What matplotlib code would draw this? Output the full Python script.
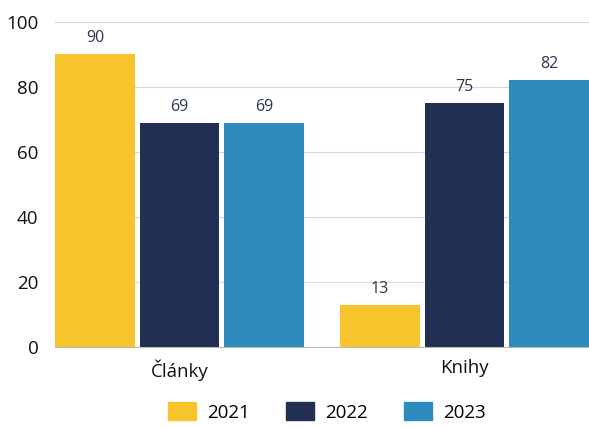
import numpy as np
import matplotlib.pyplot as plt
from matplotlib.patches import Patch

plt.rcParams['font.family'] = ['Open Sans', 'DejaVu Sans']

categories = ['Články', 'Knihy']
years = ['2021', '2022', '2023']
values = {
    '2021': [90, 13],
    '2022': [69, 75],
    '2023': [69, 82],
}
colors = ['#F8C42D', '#213052', '#2E8BBE']

fig = plt.figure(figsize=(5.89, 4.28), dpi=100)
ax = fig.add_axes([0.0934, 0.1893, 0.9066, 0.7593])

x = np.arange(len(categories))
step = 0.297
width = 0.28
for i, (yr, col) in enumerate(zip(years, colors)):
    pos = x + (i - 1) * step
    bars = ax.bar(pos, values[yr], width, color=col, zorder=3)
    for b, v in zip(bars, values[yr]):
        ax.text(b.get_x() + b.get_width() / 2, v + 2.5, str(v),
                ha='center', va='bottom', fontsize=11.5, color='#2a3550')

ax.set_xlim(-0.437, 1.437)
ax.set_ylim(0, 100)
ax.set_yticks([0, 20, 40, 60, 80, 100])
ax.set_xticks(x)
ax.set_xticklabels(categories)
ax.tick_params(axis='both', length=0, labelsize=13.5, colors='#111111')
ax.tick_params(axis='x', pad=9)
ax.tick_params(axis='y', pad=12)
ax.grid(axis='y', color='#d9d9d9', linewidth=0.8, zorder=0)
for s in ['left', 'right', 'top']:
    ax.spines[s].set_visible(False)
ax.spines['bottom'].set_color('#bbbbbb')
ax.spines['bottom'].set_zorder(4)

handles = [Patch(color=c, label=y) for c, y in zip(colors, years)]
fig.legend(handles=handles, loc='lower center', bbox_to_anchor=(0.555, -0.025),
           ncol=3, frameon=False, fontsize=13.5, handlelength=1.5, handleheight=1.1,
           columnspacing=1.9, handletextpad=0.6)

fig.savefig('out.png', dpi=100)
